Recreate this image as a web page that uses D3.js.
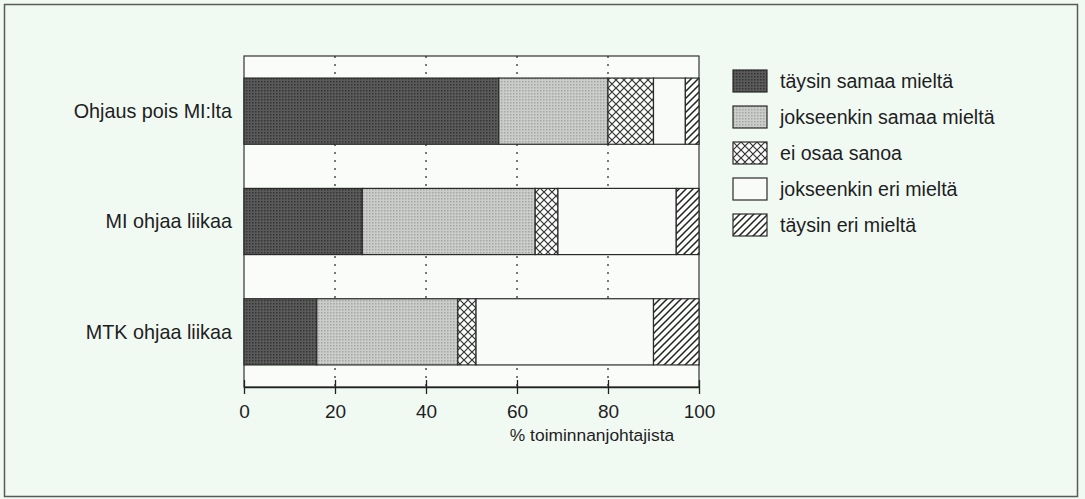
<!DOCTYPE html>
<html>
<head>
<meta charset="utf-8">
<script src="https://cdn.jsdelivr.net/npm/d3@7"></script>
<style>
  body { margin: 0; background: #f1f9f3; }
  text { font-family: "Liberation Sans", Arial, sans-serif; fill: #1e1e1e; }
</style>
</head>
<body>
<div id="chart"></div>
<script>
// Data
const categories = ['Ohjaus pois MI:lta', 'MI ohjaa liikaa', 'MTK ohjaa liikaa']
const seriesNames = ['täysin samaa mieltä', 'jokseenkin samaa mieltä', 'ei osaa sanoa', 'jokseenkin eri mieltä', 'täysin eri mieltä']
const taysinSamaa = [56, 26, 16]
const jokseenkinSamaa = [24, 38, 31]
const eiOsaa = [10, 5, 4]
const jokseenkinEri = [7, 26, 39]
const taysinEri = [3, 5, 10]
const xTicks = [0, 20, 40, 60, 80, 100]
const xTitle = '% toiminnanjohtajista'

const width = 1085
const height = 499

const svg = d3.select('#chart')
  .append('svg')
  .attr('width', width)
  .attr('height', height)

// Patterns for the fills
const defs = svg.append('defs')

const dark = defs.append('pattern')
  .attr('id', 'p0').attr('patternUnits', 'userSpaceOnUse')
  .attr('width', 3).attr('height', 3)
dark.append('rect').attr('width', 3).attr('height', 3).attr('fill', '#5a5a5a')
dark.append('rect').attr('width', 1.5).attr('height', 1.5).attr('fill', '#343434')

const light = defs.append('pattern')
  .attr('id', 'p1').attr('patternUnits', 'userSpaceOnUse')
  .attr('width', 3).attr('height', 3)
light.append('rect').attr('width', 3).attr('height', 3).attr('fill', '#cacdca')
light.append('rect').attr('width', 1.5).attr('height', 1.5).attr('fill', '#a4a7a4')

const cross = defs.append('pattern')
  .attr('id', 'p2').attr('patternUnits', 'userSpaceOnUse')
  .attr('width', 8).attr('height', 8)
cross.append('rect').attr('width', 8).attr('height', 8).attr('fill', '#fbfdfb')
cross.append('path').attr('d', 'M0,0L8,8M8,0L0,8M-4,4L4,-4M4,12L12,4M-4,4L4,12M4,-4L12,4')
  .attr('stroke', '#333').attr('stroke-width', 1.2)

const plain = defs.append('pattern')
  .attr('id', 'p3').attr('patternUnits', 'userSpaceOnUse')
  .attr('width', 4).attr('height', 4)
plain.append('rect').attr('width', 4).attr('height', 4).attr('fill', '#f8fbf8')

const hatch = defs.append('pattern')
  .attr('id', 'p4').attr('patternUnits', 'userSpaceOnUse')
  .attr('width', 7).attr('height', 7)
hatch.append('rect').attr('width', 7).attr('height', 7).attr('fill', '#fbfdfb')
hatch.append('path').attr('d', 'M-1,8L8,-1M-4,4L4,-4M3,11L11,3')
  .attr('stroke', '#222').attr('stroke-width', 1.5)

const fills = ['url(#p0)', 'url(#p1)', 'url(#p2)', 'url(#p3)', 'url(#p4)']

// Outer frame
svg.append('rect')
  .attr('x', 4.5).attr('y', 4.5)
  .attr('width', 1073).attr('height', 492)
  .attr('fill', '#f1f9f3')
  .attr('stroke', '#5a5a5a')
  .attr('stroke-width', 1.5)

// Scales
const plotTop = 56
const plotBottom = 387
const xScale = d3.scaleLinear()
  .domain([0, 100])
  .range([244, 699])

const yScale = d3.scaleBand()
  .domain(categories)
  .range([plotTop, plotBottom])
  .paddingInner(0.4)
  .paddingOuter(0.2)

// Plot frame
svg.append('rect')
  .attr('x', xScale(0)).attr('y', plotTop)
  .attr('width', xScale(100) - xScale(0))
  .attr('height', plotBottom - plotTop)
  .attr('fill', '#f9fcf9')
  .attr('stroke', '#333')
  .attr('stroke-width', 1.2)

// Dotted grid
svg.append('g')
  .selectAll('line')
  .data(xTicks.slice(1, -1))
  .enter().append('line')
  .attr('x1', (d) => xScale(d)).attr('x2', (d) => xScale(d))
  .attr('y1', plotTop).attr('y2', plotBottom)
  .attr('stroke', '#222')
  .attr('stroke-width', 1.2)
  .attr('stroke-dasharray', '2,6')

// Stack the series
const rows = categories.map((c, i) => ({
  cat: c,
  s0: taysinSamaa[i], s1: jokseenkinSamaa[i], s2: eiOsaa[i], s3: jokseenkinEri[i], s4: taysinEri[i]
}))
const stack = d3.stack().keys(['s0', 's1', 's2', 's3', 's4'])(rows)

svg.append('g')
  .selectAll('g')
  .data(stack)
  .enter().append('g')
  .attr('fill', (d, i) => fills[i])
  .selectAll('rect')
  .data((d) => d)
  .enter().append('rect')
  .attr('x', (d) => xScale(d[0]))
  .attr('y', (d) => yScale(d.data.cat))
  .attr('width', (d) => xScale(d[1]) - xScale(d[0]))
  .attr('height', yScale.bandwidth())
  .attr('stroke', '#2a2a2a')
  .attr('stroke-width', 1.2)

// Category labels
svg.append('g')
  .selectAll('text')
  .data(categories)
  .enter().append('text')
  .attr('x', 232)
  .attr('y', (d) => yScale(d) + yScale.bandwidth() / 2)
  .attr('dy', '0.35em')
  .attr('text-anchor', 'end')
  .style('font-size', '19.8px')
  .text((d) => d)

// X axis
const xAxis = svg.append('g')
  .attr('transform', `translate(0, ${plotBottom})`)
  .call(d3.axisBottom(xScale)
    .tickValues(xTicks)
    .tickSize(7)
    .tickSizeOuter(0)
    .tickPadding(11))
xAxis.select('.domain').attr('stroke', '#222').attr('stroke-width', 1.5)
xAxis.selectAll('.tick line').attr('y1', -7).attr('stroke', '#222').attr('stroke-width', 1.3)
xAxis.selectAll('.tick text')
  .style('font-size', '19px')
  .style('font-family', '"Liberation Sans", Arial, sans-serif')
  .attr('fill', '#1e1e1e')

svg.append('text')
  .attr('x', 592)
  .attr('y', 441)
  .attr('text-anchor', 'middle')
  .style('font-size', '17.4px')
  .text(xTitle)

// Legend
const legend = svg.append('g')
  .attr('transform', 'translate(733, 70)')
const item = legend.selectAll('g')
  .data(seriesNames)
  .enter().append('g')
  .attr('transform', (d, i) => `translate(0, ${i * 36})`)
item.append('rect')
  .attr('width', 34).attr('height', 22)
  .attr('fill', (d, i) => fills[i])
  .attr('stroke', '#2a2a2a')
  .attr('stroke-width', 1.2)
item.append('text')
  .attr('x', 47)
  .attr('y', 11)
  .attr('dy', '0.35em')
  .style('font-size', '19.6px')
  .text((d) => d)
</script>
</body>
</html>
